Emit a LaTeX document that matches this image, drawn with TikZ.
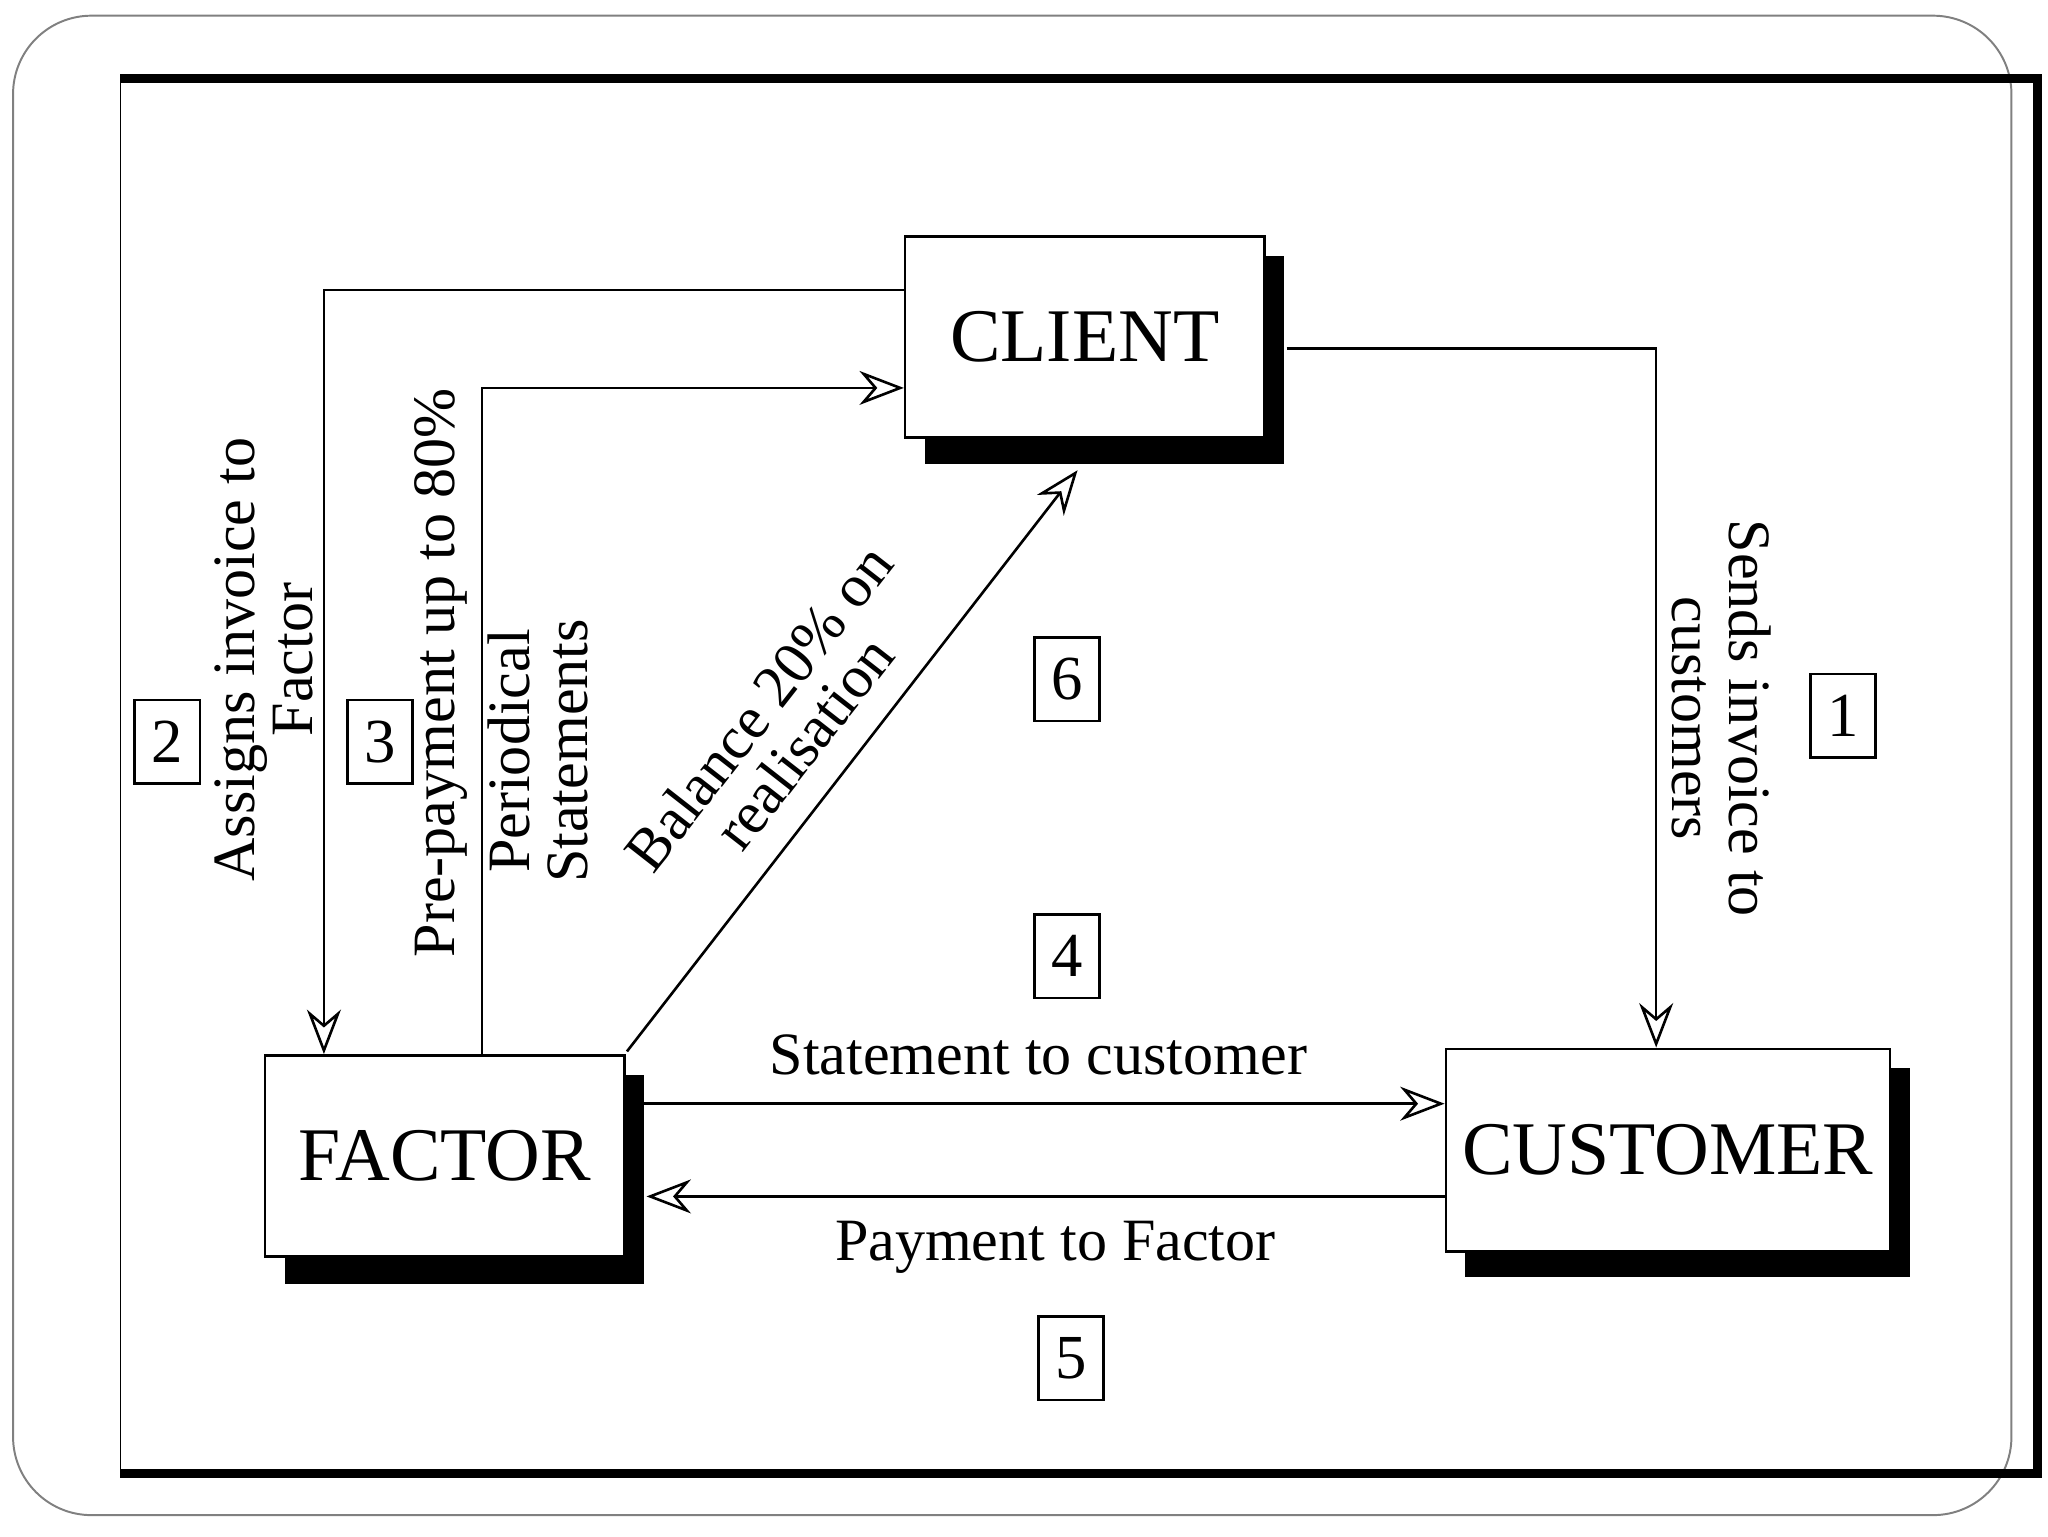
\documentclass[tikz,border=0pt]{standalone}
\usepackage{fontspec}
\setmainfont{Liberation Serif}
\usetikzlibrary{arrows.meta}
\begin{document}
\begin{tikzpicture}[x=1pt,y=-1pt,
  box/.style={draw,line width=2pt,fill=white,inner sep=0pt},
  big/.style={font=\fontsize{58}{60}\selectfont},
  lab/.style={font=\fontsize{46}{44}\selectfont,align=center},
  num/.style={draw,line width=2pt,minimum width=50pt,minimum height=64pt,inner sep=0pt,font=\fontsize{48}{48}\selectfont},
  arr/.style={line width=2pt,-{Stealth[open,length=34pt,width=26pt]}}]
\useasboundingbox (0,0) rectangle (1568,1176);
\draw[gray,line width=1.5pt,rounded corners=60pt] (10,12) rectangle (1540,1160);
\draw[line width=1pt] (92,60) -- (92,1128);
\draw[line width=7pt] (92,60) -- (1560,60) -- (1560,1128) -- (92,1128);
% shadows
\fill (708,196) rectangle (983,355);
\fill (218,823) rectangle (493,983);
\fill (1122,818) rectangle (1462,978);
\node[box,minimum width=275pt,minimum height=154pt,big] (client) at (830.5,258) {CLIENT};
\node[box,minimum width=275pt,minimum height=154pt,big] (factor) at (340.5,885) {FACTOR};
\node[box,minimum width=340pt,minimum height=155pt,big] (customer) at (1277,880.5) {CUSTOMER};
\coordinate (c1) at (248,222);
\coordinate (c2) at (369,297);
\coordinate (c3) at (1268,267);
\draw[arr] (client.west |- c1) -- (c1) -- (c1 |- factor.north);
\draw[arr] (c2 |- factor.north) -- (c2) -- (client.west |- c2);
\draw[arr] (985,267) -- (c3) -- (c3 |- customer.north);
\draw[arr] (480,805) -- (825,360);
\draw[arr] (factor.east |- 0,845) -- (customer.west |- 0,845);
\draw[arr] (customer.west |- 0,916) -- (495,916);
\node[lab,rotate=90] (l2) at (202,505) {Assigns invoice to\\Factor};
\node[lab,rotate=90] (l3a) at (338,515) {Pre-payment up to 80\%};
\node[lab,rotate=90] (l3b) at (412,575) {Periodical\\Statements};
\node[lab,rotate=-90] (l1) at (1318,550) {Sends invoice to\\customers};
\node[lab,rotate=52] (l6) at (598,555) {Balance 20\% on\\realisation};
\node[lab] (l4) at (795,808) {Statement to customer};
\node[lab] (l5) at (808,955) {Payment to Factor};
\node[num] (n2) at (128,568) {2};
\node[num] (n3) at (291,568) {3};
\node[num] (n6) at (817,520) {6};
\node[num] (n1) at (1411,548) {1};
\node[num] (n4) at (817,732) {4};
\node[num] (n5) at (820,1040) {5};
\end{tikzpicture}
\end{document}
